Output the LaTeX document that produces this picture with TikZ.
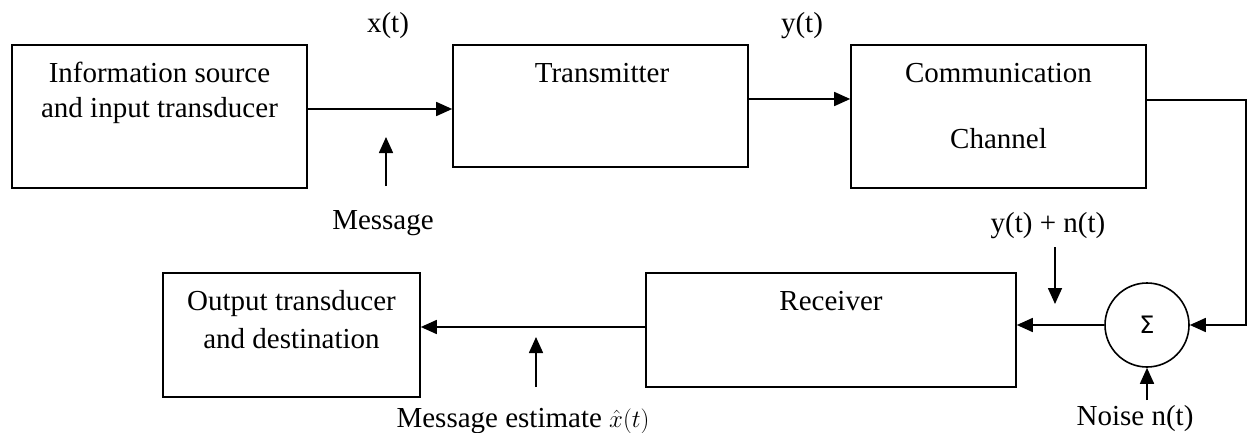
\documentclass[tikz,border=0pt]{standalone}
\usepackage{fontspec}
\setmainfont{Liberation Serif}
\newfontfamily\sigmafont{DejaVu Sans}
\usetikzlibrary{arrows.meta}
\begin{document}
\begin{tikzpicture}[x=1pt,y=-1pt,
  blk/.style={draw,line width=1.6pt,rectangle,inner sep=0pt},
  txt/.style={inner sep=0pt,anchor=base,font=\fontsize{29}{35}\selectfont},
  conn/.style={line width=1.6pt,-{Triangle[length=16pt,width=14pt]}}]
\useasboundingbox (0,0) rectangle (1247,433);
% blocks
\node[blk,minimum width=295pt,minimum height=143pt] (src) at (159.5,116.5) {};
\node[blk,minimum width=295pt,minimum height=122pt] (tx) at (600.5,106) {};
\node[blk,minimum width=295pt,minimum height=143pt] (ch) at (998.5,116.5) {};
\node[blk,minimum width=257pt,minimum height=124pt] (out) at (291.5,335) {};
\node[blk,minimum width=370pt,minimum height=114pt] (rx) at (831,330) {};
\node[draw,circle,line width=1.6pt,minimum size=84pt,inner sep=0pt] (sum) at (1147,325) {\fontsize{24}{24}\sigmafont Σ};
% texts
\node[txt] (t1a) at (159.5,83) {Information source};
\node[txt] (t1b) at (159.5,118) {and input transducer};
\node[txt] (t2) at (602,83) {Transmitter};
\node[txt] (t3a) at (998.5,83) {Communication};
\node[txt] (t3b) at (998.5,148) {Channel};
\node[txt] (t4a) at (291.5,310) {Output transducer};
\node[txt] (t4b) at (291.5,348) {and destination};
\node[txt] (t5) at (831,310) {Receiver};
\node[txt] (lx) at (388,33) {x(t)};
\node[txt] (ly) at (802,33) {y(t)};
\node[txt] (lmsg) at (383,229) {Message};
\node[txt] (lyn) at (1048,232) {y(t) + n(t)};
\node[txt] (lnoise) at (1135,425) {Noise n(t)};
\node[txt] (lest) at (523,427) {Message estimate $\hat{x}(t)$};
% coordinates
\coordinate (m1) at (386,186);
\coordinate (m2) at (386,137);
\coordinate (e1) at (536,387);
\coordinate (e2) at (536,337);
\coordinate (n1) at (1055,247);
\coordinate (n2) at (1055,304);
\coordinate (nz) at (1147,400);
\coordinate (rt) at (1246,100);
% connectors
\draw[conn] (src.east |- 0,109) -- (tx.west |- 0,109);
\draw[conn] (tx.east |- 0,99) -- (ch.west |- 0,99);
\draw[conn] (ch.east |- rt) -- (rt) |- (sum.east);
\draw[conn] (sum.west) -- (sum.west -| rx.east);
\draw[conn] (rx.west |- 0,327) -- (out.east |- 0,327);
\draw[conn] (m1) -- (m2);
\draw[conn] (e1) -- (e2);
\draw[conn] (n1) -- (n2);
\draw[conn] (nz) -- (sum.south);
\end{tikzpicture}
\end{document}
